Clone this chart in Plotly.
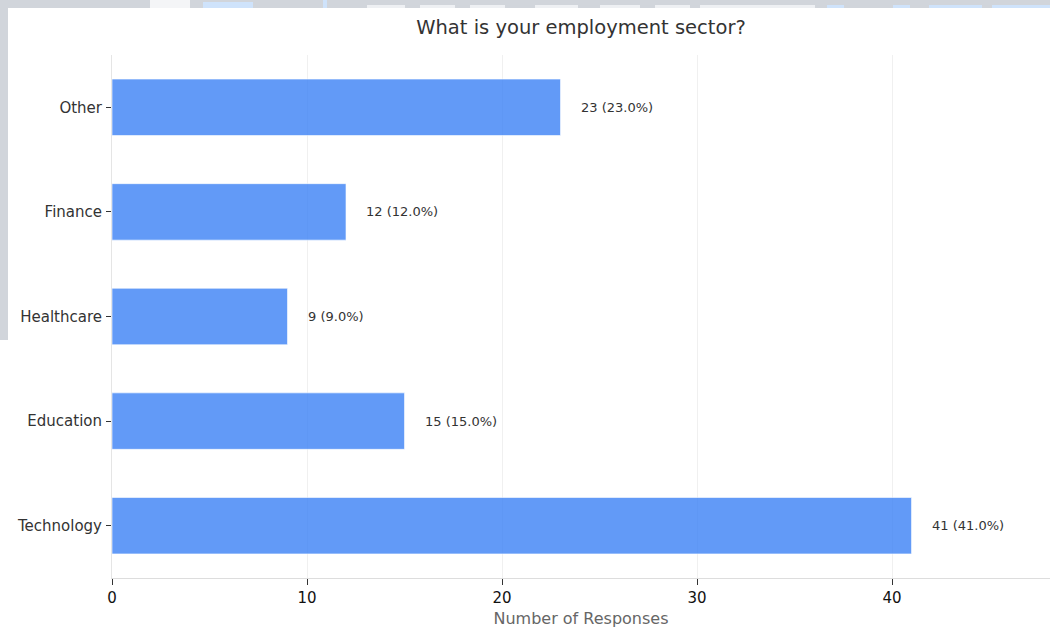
import plotly.graph_objects as go

# Survey results: employment sector
sectors = ["Technology", "Education", "Healthcare", "Finance", "Other"]
counts = [41, 15, 9, 12, 23]
total = sum(counts)
labels = [f"{c} ({c / total * 100:.1f}%)" for c in counts]

FONT = "DejaVu Sans"
GREY = "#d1d5db"
LIGHT_BLUE = "#cfe3fb"

fig = go.Figure(
    go.Bar(
        x=counts,
        y=sectors,
        orientation="h",
        width=0.54,
        marker=dict(color="#3b82f6", opacity=0.8,
                    line=dict(color="rgba(255,255,255,0.6)", width=1)),
        hoverinfo="x+y",
    )
)

# value labels to the right of each bar
for s, c, t in zip(sectors, counts, labels):
    fig.add_annotation(x=c, y=s, text=t, showarrow=False, xanchor="left",
                       xshift=18, font=dict(family=FONT, size=13, color="#333333"))

# page backdrop framing the chart card (top and left edges)
W, H = 1050, 628
ML, MR, MT, MB = 112, 0, 55, 50
PW, PH = W - ML - MR, H - MT - MB


def px_rect(x0, y0, x1, y1, color):
    fig.add_shape(type="rect", xref="paper", yref="paper",
                  x0=(x0 - ML) / PW, x1=(x1 - ML) / PW,
                  y0=(H - MB - y1) / PH, y1=(H - MB - y0) / PH,
                  fillcolor=color, line=dict(width=0), layer="below")


px_rect(0, 0, W, 8, GREY)
px_rect(0, 0, 8, 340, GREY)
px_rect(150, 0, 190, 8, "#f4f5f7")
px_rect(203, 2, 253, 8, LIGHT_BLUE)
px_rect(323, 0, 327, 8, LIGHT_BLUE)
for x0, x1 in [(367, 405), (420, 455), (470, 505), (535, 578), (600, 640), (655, 690), (700, 815)]:
    px_rect(x0, 5, x1, 8, "#eef0f3")
for x0, x1 in [(827, 844), (893, 910), (929, 982), (992, 1050)]:
    px_rect(x0, 5, x1, 8, LIGHT_BLUE)

fig.update_layout(
    width=W,
    height=H,
    margin=dict(l=ML, r=MR, t=MT, b=MB),
    paper_bgcolor="#ffffff",
    plot_bgcolor="#ffffff",
    font=dict(family=FONT, size=15, color="#333333"),
    title=dict(text="What is your employment sector?", x=0.5, xref="paper",
               xanchor="center", y=1 - 27 / H, yanchor="middle",
               font=dict(family=FONT, size=19.5, color="#333333")),
    showlegend=False,
    bargap=0.46,
)

fig.update_xaxes(
    range=[0, 48.1],
    tickvals=[0, 10, 20, 30, 40],
    showgrid=True,
    gridcolor="#f0f0f0",
    zeroline=False,
    showline=True,
    linecolor="#dddddd",
    ticks="outside",
    ticklen=6,
    tickcolor="#333333",
    tickfont=dict(family=FONT, size=15, color="#111111"),
    title=dict(text="Number of Responses", standoff=6,
               font=dict(family=FONT, size=16, color="#666666")),
)

fig.update_yaxes(
    categoryorder="array",
    categoryarray=sectors,
    range=[-0.5, 4.5],
    showgrid=False,
    zeroline=False,
    showline=True,
    linecolor="#e5e5e5",
    ticks="outside",
    ticklen=5,
    tickcolor="#333333",
    ticklabelstandoff=1,
    tickfont=dict(family=FONT, size=15, color="#333333"),
)

fig.write_html("out.html")
